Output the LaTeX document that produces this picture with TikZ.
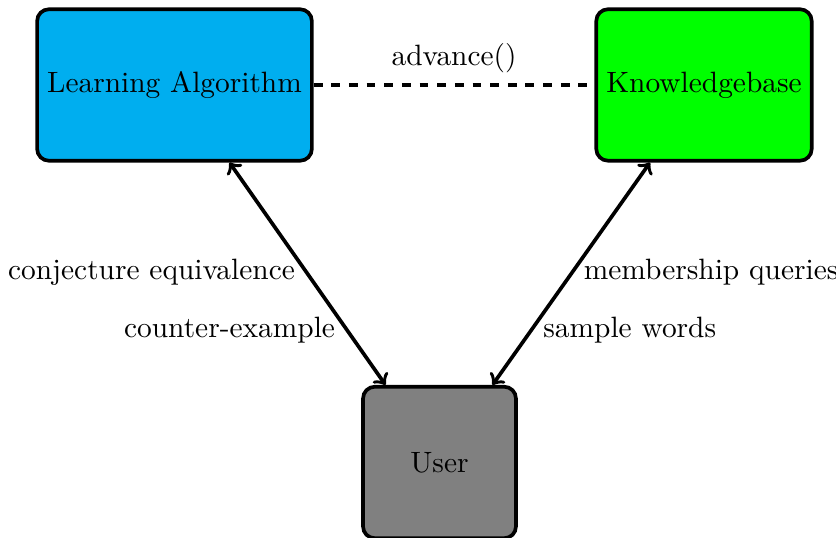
\documentclass[tikz,border=0pt]{standalone}
\usetikzlibrary{calc}
\definecolor{lacol}{RGB}{0,174,239}
\definecolor{kbcol}{RGB}{0,255,0}
\definecolor{usercol}{RGB}{128,128,128}
\begin{document}
\begin{tikzpicture}[x=0.34pt,y=-0.34pt,
  box/.style={draw=black,line width=1.25pt,rounded corners=4pt,minimum height=51.5pt,minimum width=52pt,inner sep=3.4pt},
  conn/.style={line width=1.25pt},
  lbl/.style={inner sep=3.4pt}]
\useasboundingbox (0,0) rectangle (836,538);
\node[box,fill=lacol] (LA) at (174.5,85) {Learning Algorithm};
\node[box,fill=kbcol] (KB) at (704,85) {Knowledgebase};
\node[box,fill=usercol] (U) at (439.5,462.5) {User};
\draw[conn,dashed] (LA.east) -- node[lbl,above=0pt] (adv) {advance()} (KB.west);
\draw[conn,<->] ($(LA.south)+(55,0)$) -- node[lbl,pos=0.495,anchor=east] (ce) {conjecture equivalence}
  node[lbl,pos=0.752,anchor=east] (cx) {counter-example} ($(U.north)+(-54,0)$);
\draw[conn,<->] ($(KB.south)+(-54,0)$) -- node[lbl,pos=0.495,anchor=west] (mq) {membership queries}
  node[lbl,pos=0.752,anchor=west] (sw) {sample words} ($(U.north)+(53,0)$);
\end{tikzpicture}
\end{document}
